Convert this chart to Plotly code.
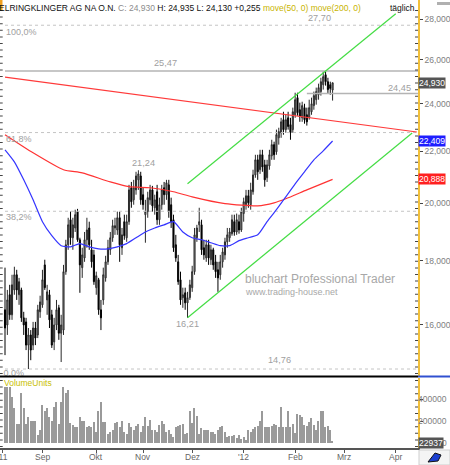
import math
import plotly.graph_objects as go

# ---------------- data ----------------
open_ = [
    16.45, 16.00, 16.91, 16.30, 17.06, 17.54, 16.91, 17.06, 16.21, 16.09,
    15.42, 15.71, 15.42, 15.91, 15.71, 16.39, 16.60, 17.86, 16.75, 16.91,
    16.30, 15.51, 16.00, 16.51, 15.76, 15.85, 17.64, 18.53, 19.40, 18.77,
    19.11, 19.69, 18.70, 17.77, 18.09, 18.70, 19.11, 18.36, 18.19, 17.13,
    17.38, 16.45, 16.75, 17.44, 17.96, 18.36, 18.77, 19.11, 19.04, 19.47,
    18.43, 19.33, 18.77, 19.33, 20.57, 20.12, 20.49, 20.87, 21.02, 20.31,
    19.58, 19.69, 20.12, 20.49, 19.83, 20.42, 19.40, 19.94, 20.57, 20.31,
    20.68, 19.94, 19.40, 18.53, 17.96, 17.38, 16.82, 16.97, 16.66, 16.82,
    17.13, 17.64, 18.77, 19.22, 19.22, 18.43, 18.09, 18.53, 18.03, 18.36,
    17.96, 17.70, 17.54, 17.96, 18.19, 18.63, 18.77, 18.91, 19.33, 18.97,
    19.33, 19.04, 19.62, 19.94, 20.27, 19.94, 20.42, 21.06, 21.65, 21.26,
    21.85, 21.45, 20.95, 21.41, 21.81, 22.26, 21.97, 22.54, 22.75, 23.30,
    22.88, 23.38, 23.09, 22.88, 23.51, 24.26, 23.73, 23.38, 23.82, 23.51,
    23.38, 23.64, 23.91, 24.17, 24.39, 24.53, 24.84, 25.30, 24.98, 24.84,
    24.60]
high = [
    17.77, 17.06, 17.22, 17.54, 17.80, 17.70, 17.44, 17.13, 16.39, 16.21,
    15.91, 15.85, 16.09, 16.09, 16.60, 16.88, 17.70, 18.03, 17.22, 17.06,
    16.45, 16.21, 16.75, 16.60, 16.30, 17.86, 18.70, 19.47, 19.69, 19.47,
    19.76, 19.79, 18.77, 18.43, 18.97, 19.47, 19.33, 18.70, 18.36, 17.64,
    17.44, 16.75, 17.77, 18.16, 18.70, 18.97, 19.40, 19.47, 19.69, 19.69,
    19.11, 19.58, 19.58, 20.68, 20.79, 20.87, 21.18, 21.24, 21.18, 20.57,
    20.12, 20.42, 20.68, 20.64, 20.31, 20.68, 20.20, 20.68, 20.79, 20.87,
    20.87, 20.20, 19.58, 18.87, 18.19, 17.64, 17.13, 17.13, 17.00, 17.38,
    17.83, 19.11, 19.22, 19.83, 19.40, 18.70, 18.70, 18.70, 18.53, 18.43,
    18.19, 17.96, 18.19, 18.43, 18.77, 19.11, 19.11, 19.58, 19.58, 19.62,
    19.58, 19.83, 20.20, 20.49, 20.49, 20.76, 21.26, 21.85, 21.85, 22.05,
    22.05, 21.65, 21.65, 22.05, 22.46, 22.38, 22.88, 22.96, 23.38, 23.64,
    23.51, 23.64, 23.38, 23.82, 24.48, 24.48, 24.04, 24.08, 23.99, 23.82,
    24.17, 24.26, 24.53, 24.71, 24.89, 25.16, 25.45, 25.47, 25.16, 24.98,
    24.935]
low = [
    15.14, 15.71, 16.15, 16.15, 16.91, 16.75, 16.60, 16.09, 15.71, 15.28,
    14.76, 15.00, 15.28, 15.42, 15.62, 16.21, 16.51, 17.06, 16.30, 15.91,
    15.34, 15.28, 15.85, 15.57, 14.95, 15.71, 17.54, 18.36, 18.53, 18.36,
    18.97, 18.63, 16.97, 17.44, 17.96, 18.43, 18.36, 17.77, 17.22, 16.91,
    16.30, 15.85, 16.60, 17.32, 17.86, 18.19, 18.63, 18.87, 18.87, 17.96,
    18.19, 18.70, 18.63, 19.22, 19.83, 19.94, 20.31, 20.49, 19.94, 19.76,
    18.60, 19.47, 19.94, 19.69, 19.58, 19.22, 19.22, 19.76, 19.94, 20.12,
    19.47, 19.11, 18.29, 17.96, 17.22, 16.60, 16.51, 16.45, 16.21, 16.75,
    17.00, 17.54, 18.63, 18.97, 18.19, 18.03, 17.96, 17.86, 17.86, 17.70,
    17.44, 17.00, 17.38, 17.77, 18.03, 18.43, 18.63, 18.84, 18.84, 18.87,
    18.91, 18.97, 19.33, 19.76, 19.83, 19.76, 20.31, 20.95, 20.87, 21.10,
    21.18, 20.61, 20.79, 21.26, 21.65, 21.65, 21.85, 22.26, 22.54, 22.67,
    22.75, 22.88, 22.46, 22.75, 23.38, 23.47, 23.21, 23.21, 23.13, 23.05,
    23.30, 23.51, 23.73, 23.95, 24.17, 24.35, 24.62, 24.80, 24.44, 24.39,
    24.13]
close = [
    15.91, 16.75, 16.30, 17.22, 17.54, 17.06, 17.32, 16.21, 16.00, 15.42,
    15.71, 15.28, 15.91, 15.62, 16.45, 16.69, 17.38, 17.13, 17.00, 16.15,
    15.42, 16.00, 16.45, 15.76, 16.00, 17.64, 18.53, 19.22, 18.77, 19.22,
    19.58, 18.70, 17.86, 18.19, 18.70, 19.04, 18.53, 17.96, 17.32, 17.51,
    16.45, 16.21, 17.54, 17.96, 18.43, 18.77, 19.19, 19.19, 19.47, 18.53,
    18.87, 18.84, 19.33, 20.49, 20.05, 20.57, 21.02, 21.10, 20.12, 19.94,
    19.69, 20.20, 20.49, 19.90, 20.12, 19.40, 19.94, 20.49, 20.31, 20.76,
    19.69, 19.33, 18.43, 18.09, 17.32, 16.75, 16.91, 16.66, 16.82, 17.22,
    17.64, 18.87, 19.11, 19.33, 18.36, 18.19, 18.53, 18.09, 18.36, 17.86,
    17.64, 17.44, 17.96, 18.29, 18.63, 18.87, 18.97, 19.40, 18.97, 19.40,
    19.04, 19.69, 20.05, 20.27, 20.01, 20.49, 21.06, 21.65, 21.18, 21.85,
    21.37, 20.87, 21.45, 21.85, 22.26, 21.85, 22.67, 22.80, 23.21, 22.88,
    23.30, 23.01, 22.75, 23.64, 24.17, 23.60, 23.43, 23.91, 23.30, 23.21,
    23.82, 23.99, 24.35, 24.53, 24.71, 24.98, 25.21, 24.98, 24.62, 24.675,
    24.93]
volume_k = [
    510, 510, 510, 420, 325, 170, 170, 455, 325, 170,
    235, 200, 200, 205, 75, 115, 345, 290, 325, 240,
    200, 330, 380, 170, 380, 510, 455, 490, 180, 165,
    145, 145, 240, 200, 200, 150, 160, 145, 195, 100,
    290, 375, 190, 190, 85, 100, 115, 180, 190, 150,
    205, 100, 85, 180, 145, 115, 160, 170, 100, 160,
    240, 160, 215, 115, 115, 100, 165, 200, 170, 100,
    115, 85, 55, 145, 160, 165, 170, 85, 95, 290,
    180, 325, 250, 85, 135, 115, 115, 115, 100, 105,
    85, 115, 145, 160, 105, 55, 65, 65, 75, 45,
    75, 40, 55, 30, 120, 105, 125, 150, 160, 200,
    290, 145, 150, 145, 160, 170, 165, 150, 330, 145,
    145, 290, 150, 170, 95, 270, 255, 235, 165, 160,
    190, 225, 165, 115, 200, 290, 290, 150, 160, 115,
    22.937]

# moving averages (sampled every few sessions)
ma50_idx = [0, 4, 8, 12, 16, 20, 24, 28, 32, 36, 40, 44, 48, 52, 56, 60, 64, 68, 72,
            76, 80, 84, 88, 92, 96, 100, 104, 108, 112, 116, 120, 124, 128, 132, 136, 140]
ma50_val = [22.05, 21.57, 20.87, 20.12, 19.33, 18.84, 18.50, 18.46, 18.57, 18.46, 18.39,
            18.39, 18.46, 18.57, 18.77, 18.97, 19.11, 19.22, 19.33, 18.97, 18.77, 18.70,
            18.60, 18.50, 18.50, 18.67, 18.77, 18.87, 19.33, 19.76, 20.23, 20.72, 21.18,
            21.65, 22.01, 22.409]
ma200_idx = [0, 12, 25, 33, 45, 53, 62, 72, 80, 94, 108, 115, 120, 129, 140]
ma200_val = [22.67, 21.93, 21.26, 21.14, 20.79, 20.61, 20.57, 20.42, 20.23, 19.98,
             19.90, 20.01, 20.16, 20.49, 20.888]

# trend lines / channel
trend_idx = [0, 176]
trend_val = [25.19, 22.78]
chan_low_idx = [78, 174]
chan_low_val = [16.21, 22.74]
chan_up_idx = [78, 167]
chan_up_val = [20.72, 28.29]

# fibonacci and marked levels
fib_low, fib_high = 14.76, 27.70
fib_ratios = [0.0, 0.382, 0.618, 1.0]
fib_text = ["0,0%", "38,2%", "61,8%", "100,0%"]
hlines_val = [25.47, 24.45]
hlines_start = [0, 129]
marks_val = [27.70, 25.47, 24.45, 21.24, 16.21, 14.76]
marks_text = ["27,70", "25,47", "24,45", "21,24", "16,21", "14,76"]

month_pos = [-0.9, 16, 39, 59, 80, 102, 124, 145, 167]
month_text = ["'11", "Sep", "Okt", "Nov", "Dez", "'12", "Feb", "Mrz", "Apr"]
price_ticks = [16, 18, 20, 22, 24, 26, 28]
vol_ticks = [0, 200000, 400000]

# ---------------- layout helpers ----------------
W, H = 450, 465
PR = 418  # right edge of plotting area (px)
FONT = "Liberation Sans, Arial, sans-serif"
ORANGE = "#f2c03a"
FS = 8.5


def pxx(px):
    return px / PR


def pxy(py):
    return 1 - py / H


def de(v, nd=3):
    return f"{v:.{nd}f}".replace(".", ",")


n = len(close)
xs = list(range(n))
X_RANGE = [-2.14, 176.5]
Y_RANGE = [math.log10(14.572), math.log10(29.01)]
V_RANGE = [-45870, 596310]
volume = [v * 1000 for v in volume_k]

fig = go.Figure()
common = dict(hoverinfo="skip", showlegend=False)

# fibonacci dotted lines
for r in fib_ratios:
    val = fib_low + r * (fib_high - fib_low)
    fig.add_trace(go.Scatter(x=[0, X_RANGE[1]], y=[val, val], mode="lines",
                             line=dict(color="#c4c4c4", width=1, dash="dot"),
                             xaxis="x", yaxis="y", **common))
# solid level lines
for val, st in zip(hlines_val, hlines_start):
    fig.add_trace(go.Scatter(x=[st, X_RANGE[1]], y=[val, val], mode="lines",
                             line=dict(color="#b4b4b4", width=1.5),
                             xaxis="x", yaxis="y", **common))
# moving averages
fig.add_trace(go.Scatter(x=ma200_idx, y=ma200_val, mode="lines",
                         line=dict(color="#ff3333", width=1.2, shape="spline", smoothing=0.6),
                         xaxis="x", yaxis="y", **common))
fig.add_trace(go.Scatter(x=ma50_idx, y=ma50_val, mode="lines",
                         line=dict(color="#3535ff", width=1.2, shape="spline", smoothing=0.6),
                         xaxis="x", yaxis="y", **common))
# candles
fig.add_trace(go.Candlestick(
    x=xs, open=open_, high=high, low=low, close=close,
    increasing=dict(line=dict(color="#2a2a2a", width=1), fillcolor="#999999"),
    decreasing=dict(line=dict(color="#000000", width=1), fillcolor="#000000"),
    whiskerwidth=0, xaxis="x", yaxis="y", hoverinfo="skip", showlegend=False))
# trend lines
fig.add_trace(go.Scatter(x=trend_idx, y=trend_val, mode="lines",
                         line=dict(color="#ff3a3a", width=1.2), xaxis="x", yaxis="y", **common))
fig.add_trace(go.Scatter(x=chan_low_idx, y=chan_low_val, mode="lines",
                         line=dict(color="#44dd44", width=1.2), xaxis="x", yaxis="y", **common))
fig.add_trace(go.Scatter(x=chan_up_idx, y=chan_up_val, mode="lines",
                         line=dict(color="#44dd44", width=1.2), xaxis="x", yaxis="y", **common))
# clipped 0,0% label
fig.add_trace(go.Scatter(x=[-0.6], y=[fib_low], mode="text", text=[fib_text[0]],
                         textposition="bottom right", cliponaxis=True,
                         textfont=dict(family=FONT, size=9, color="#a0a0a0"),
                         xaxis="x", yaxis="y", **common))
# volume
fig.add_trace(go.Bar(x=xs, y=volume, width=0.55, marker=dict(color="#9a9a9a", line=dict(width=0)),
                     xaxis="x2", yaxis="y2", **common))

ann = []
gray = "#a0a0a0"
# header
hdr = (f"ELRINGKLINGER AG NA O.N. <span style='color:#8c8c8c'>C: {de(close[-1])}</span> "
       f"H: {de(high[-1])} L: {de(low[-1])} +{de(close[-1] - close[-2])} "
       f"<span style='color:#c8b400'>move(50, 0) move(200, 0)</span>")
ann.append(dict(text=hdr, xref="paper", yref="paper", x=0, y=1, xanchor="left", yanchor="top",
                xshift=-3, yshift=-1, showarrow=False, font=dict(family=FONT, size=FS, color="#111")))
ann.append(dict(text="täglich", xref="paper", yref="paper", x=pxx(417), y=1, xanchor="right",
                yanchor="top", yshift=-1, showarrow=False, font=dict(family=FONT, size=FS, color="#111")))
# fib labels (above 0)
for r, t, sh in zip(fib_ratios[1:], fib_text[1:], [-6, -6, -7]):
    val = fib_low + r * (fib_high - fib_low)
    ann.append(dict(text=t, xref="paper", yref="y", x=pxx(4), y=math.log10(val), xanchor="left",
                    yanchor="middle", yshift=sh, showarrow=False,
                    font=dict(family=FONT, size=9, color=gray)))
# marked values
mark_x = [134.6, 68.8, 168.8, 59, 78.2, 117.5]
mark_shift = [7, 8, 5, 7, -6, 9]
for v, t, mx, sh in zip(marks_val, marks_text, mark_x, mark_shift):
    ann.append(dict(text=t, xref="x", yref="y", x=mx, y=math.log10(v), xanchor="center",
                    yanchor="middle", yshift=sh, showarrow=False,
                    font=dict(family=FONT, size=9.2, color=gray)))
# right value boxes
for v, bg in [(close[-1], "#555555"), (ma50_val[-1], "#1e1eff"), (ma200_val[-1], "#ff2020")]:
    ann.append(dict(text=de(v), xref="paper", yref="y", x=1.0, y=math.log10(v), xanchor="left",
                    yanchor="middle", xshift=0, showarrow=False, bgcolor=bg, borderpad=0,
                    font=dict(family=FONT, size=FS, color="white")))
# volume labels
for v in vol_ticks:
    ann.append(dict(text=str(v), xref="paper", yref="y2", x=pxx(449), y=v, xanchor="right",
                    yanchor="middle", showarrow=False, font=dict(family=FONT, size=FS, color="#808080")))
ann.append(dict(text=str(int(round(volume[-1]))), xref="paper", yref="y2", x=1.0, y=0,
                xanchor="left", yanchor="middle", xshift=0, showarrow=False, bgcolor="#555555",
                borderpad=0, font=dict(family=FONT, size=FS, color="white")))
ann.append(dict(text="VolumeUnits", xref="paper", yref="paper", x=pxx(2), y=pxy(383),
                xanchor="left", yanchor="middle", showarrow=False,
                font=dict(family=FONT, size=FS, color="#c8c000")))
# month labels
for mp, mt in zip(month_pos, month_text):
    ann.append(dict(text=mt, xref="x", yref="paper", x=mp, y=pxy(457), xanchor="center",
                    yanchor="middle", showarrow=False, font=dict(family=FONT, size=FS, color="#666")))
# watermark
ann.append(dict(text="bluchart Professional Trader", xref="paper", yref="paper", x=pxx(243),
                y=pxy(279), xanchor="left", yanchor="middle", showarrow=False,
                font=dict(family=FONT, size=12, color="#a8a8a8")))
ann.append(dict(text="www.trading-house.net", xref="paper", yref="paper", x=pxx(243),
                y=pxy(292), xanchor="left", yanchor="middle", showarrow=False,
                font=dict(family=FONT, size=9, color="#a8a8a8")))

shapes = []
# separator between panels
shapes.append(dict(type="line", xref="paper", yref="paper", x0=0, x1=1, y0=pxy(376.5), y1=pxy(376.5),
                   line=dict(color="#000", width=2)))
shapes.append(dict(type="line", xref="paper", yref="paper", x0=1.0, x1=pxx(450), y0=pxy(376.5),
                   y1=pxy(376.5), line=dict(color="#3050d0", width=2)))
# dotted minor ticks at left and right edges
for xpx in (1.2, 416.5):
    for (ya, yb) in ((10, 375), (380, 447)):
        shapes.append(dict(type="line", xref="paper", yref="paper", x0=pxx(xpx), x1=pxx(xpx),
                           y0=pxy(ya), y1=pxy(yb),
                           line=dict(color="#444", width=3, dash="1px,5.6px")))
# corner marks
shapes.append(dict(type="rect", xref="paper", yref="paper", x0=0, x1=pxx(2.5), y0=pxy(0), y1=pxy(10),
                   fillcolor="#f0a020", line=dict(width=0)))
shapes.append(dict(type="rect", xref="paper", yref="paper", x0=pxx(437), x1=pxx(450), y0=pxy(2),
                   y1=pxy(5), fillcolor="#b0b0b0", line=dict(width=0)))
shapes.append(dict(type="rect", xref="paper", yref="paper", x0=pxx(419), x1=pxx(450), y0=pxy(450),
                   y1=pxy(465), fillcolor="#f4f4f4", line=dict(color="#cfcfcf", width=1)))
shapes.append(dict(type="path", xref="paper", yref="paper",
                   path=(f"M {pxx(428)} {pxy(462)} L {pxx(435)} {pxy(453)} L {pxx(441)} {pxy(455)} "
                         f"L {pxx(438)} {pxy(461)} Z"),
                   fillcolor="#1a3fd0", line=dict(color="#111", width=1)))

fig.update_layout(
    width=W, height=H, margin=dict(l=0, r=W - PR, t=0, b=0),
    paper_bgcolor="white", plot_bgcolor="white",
    font=dict(family=FONT, size=FS, color="#777"),
    showlegend=False, boxgap=0.35, bargap=0,
    annotations=ann, shapes=shapes,
    xaxis=dict(domain=[0, 1], range=X_RANGE, anchor="y", showticklabels=False, showgrid=False,
               zeroline=False, showline=False, ticks="", rangeslider=dict(visible=False), fixedrange=True),
    yaxis=dict(domain=[pxy(376), 1], type="log", range=Y_RANGE, side="right", anchor="x",
               tickvals=price_ticks, ticktext=[de(v) for v in price_ticks],
               tickfont=dict(family=FONT, size=FS, color="#808080"),
               ticks="outside", ticklen=3, tickcolor="#444", showgrid=False, zeroline=False,
               showline=True, linecolor=ORANGE, linewidth=1.5, fixedrange=True),
    xaxis2=dict(domain=[0, 1], range=X_RANGE, anchor="y2", tickvals=month_pos,
                showticklabels=False, ticks="outside", ticklen=3,
                tickcolor="#555", showgrid=False, zeroline=False, showline=True, linecolor="#555",
                linewidth=2, fixedrange=True),
    yaxis2=dict(domain=[pxy(448), pxy(378)], range=V_RANGE, side="right", anchor="x2",
                tickvals=vol_ticks, showticklabels=False, ticks="outside", ticklen=3, tickcolor="#444",
                showgrid=False, zeroline=False, showline=True, linecolor=ORANGE, linewidth=1.5,
                fixedrange=True),
)

fig.write_html("out.html", include_plotlyjs=True, full_html=True,
               config={"displayModeBar": False},
               post_script="document.body.style.margin='0';document.body.style.padding='0';")
